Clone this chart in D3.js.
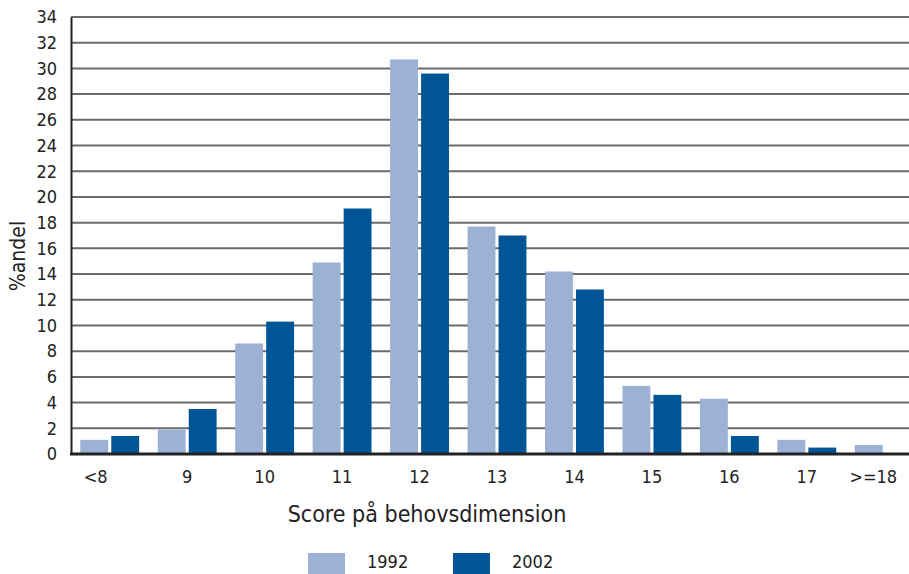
<!DOCTYPE html>
<html>
<head>
<meta charset="utf-8">
<script src="https://cdn.jsdelivr.net/npm/d3@7"></script>
<style>
  body { margin: 0; background: #fff; }
  svg { display: block; }
</style>
</head>
<body>
<script>
const categories = ['<8', '9', '10', '11', '12', '13', '14', '15', '16', '17', '>=18'];
const seriesNames = ['1992', '2002'];
const values1992 = [1.1, 1.9, 8.6, 14.9, 30.7, 17.7, 14.2, 5.3, 4.3, 1.1, 0.7];
const values2002 = [1.4, 3.5, 10.3, 19.1, 29.6, 17.0, 12.8, 4.6, 1.4, 0.5, 0];
const yTicks = d3.range(0, 35, 2);

const width = 909, height = 574;
const palette = { '1992': '#9db1d4', '2002': '#005596', grid: '#6b6b6b', axis: '#222', text: '#222' };
const font = '"DejaVu Sans Condensed", "DejaVu Sans", sans-serif';

const svg = d3.select('body').append('svg')
  .attr('width', width)
  .attr('height', height);

const plot = { left: 71, right: 923, top: 17, bottom: 454 };

const x = d3.scaleBand()
  .domain(categories)
  .range([plot.left, plot.right])
  .paddingInner(0.24)
  .paddingOuter(0.12);

const xSub = d3.scaleBand()
  .domain(seriesNames)
  .range([0, x.bandwidth()])
  .paddingInner(0.1);

const y = d3.scaleLinear()
  .domain([0, 34])
  .range([plot.bottom, plot.top]);

// grid lines
svg.append('g')
  .selectAll('line')
  .data(yTicks.filter(d => d > 0))
  .enter()
  .append('line')
  .attr('x1', plot.left)
  .attr('x2', width)
  .attr('y1', d => y(d))
  .attr('y2', d => y(d))
  .attr('stroke', palette.grid)
  .attr('stroke-width', 2);

// bars
const rows = categories.map((c, i) => ({ cat: c, vals: [values1992[i], values2002[i]] }));
svg.append('g')
  .selectAll('g')
  .data(rows)
  .enter()
  .append('g')
  .attr('transform', d => `translate(${x(d.cat)},0)`)
  .selectAll('rect')
  .data(d => d.vals.map((v, j) => ({ key: seriesNames[j], value: v })).filter(e => e.value > 0))
  .enter()
  .append('rect')
  .attr('x', d => xSub(d.key))
  .attr('y', d => y(d.value))
  .attr('width', xSub.bandwidth())
  .attr('height', d => y(0) - y(d.value))
  .attr('fill', d => palette[d.key]);

// y axis
const yAxis = svg.append('g')
  .attr('transform', `translate(${plot.left},0)`)
  .call(d3.axisLeft(y).tickValues(yTicks).tickSize(0).tickPadding(14));
yAxis.select('.domain').attr('stroke', palette.axis).attr('stroke-width', 2);
yAxis.selectAll('text')
  .attr('font-family', font)
  .attr('font-size', 18)
  .attr('fill', palette.text);

// baseline
svg.append('line')
  .attr('x1', plot.left - 1)
  .attr('x2', width)
  .attr('y1', y(0))
  .attr('y2', y(0))
  .attr('stroke', palette.axis)
  .attr('stroke-width', 3);

// x axis labels
const xOffset = { '<8': -14, '>=18': -11 };
const xAxis = svg.append('g')
  .attr('transform', `translate(0,${plot.bottom})`)
  .call(d3.axisBottom(x).tickSize(0).tickPadding(16));
xAxis.select('.domain').remove();
xAxis.selectAll('text')
  .attr('dx', d => xOffset[d] || 0)
  .attr('font-family', font)
  .attr('font-size', 18)
  .attr('fill', palette.text);

// axis titles
svg.append('text')
  .attr('x', 427)
  .attr('y', 522)
  .attr('text-anchor', 'middle')
  .attr('font-family', font)
  .attr('font-size', 23)
  .attr('fill', palette.text)
  .text('Score på behovsdimension');

svg.append('text')
  .attr('transform', 'rotate(-90)')
  .attr('x', -256)
  .attr('y', 25)
  .attr('text-anchor', 'middle')
  .attr('font-family', font)
  .attr('font-size', 21)
  .attr('fill', palette.text)
  .text('%andel');

// legend
const legend = svg.append('g');
const legendX = [308, 453];
seriesNames.forEach((name, i) => {
  legend.append('rect')
    .attr('x', legendX[i])
    .attr('y', 553)
    .attr('width', 37)
    .attr('height', 24)
    .attr('fill', palette[name]);
  legend.append('text')
    .attr('x', legendX[i] + 59)
    .attr('y', 568)
    .attr('font-family', font)
    .attr('font-size', 18)
    .attr('fill', palette.text)
    .text(name);
});
</script>
</body>
</html>
